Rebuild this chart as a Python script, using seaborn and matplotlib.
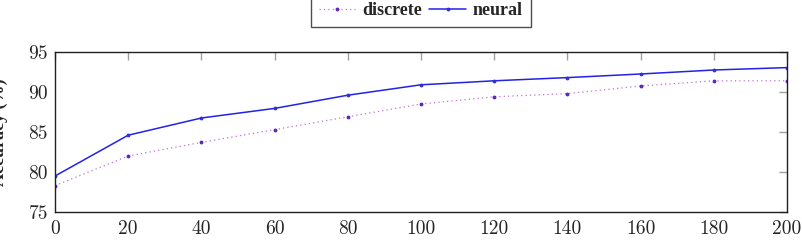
import matplotlib
matplotlib.use("Agg")
import matplotlib.pyplot as plt
import seaborn as sns
import pandas as pd

steps = [0, 20, 40, 60, 80, 100, 120, 140, 160, 180, 200]
discrete = [78.3, 82.0, 83.7, 85.3, 86.9, 88.5, 89.4, 89.8, 90.75, 91.4, 91.4]
neural = [79.5, 84.6, 86.75, 87.95, 89.6, 90.9, 91.4, 91.8, 92.25, 92.75, 93.05]
x_ticks = [0, 20, 40, 60, 80, 100, 120, 140, 160, 180, 200]
y_ticks = [75, 80, 85, 90, 95]

sns.set_theme(style="white")
plt.rcParams["axes.formatter.use_mathtext"] = True

fig = plt.figure(figsize=(8.03, 2.40), dpi=100)
W, H = 803, 240
ax = fig.add_axes([55 / W, 1 - 212 / H, (787 - 55) / W, (212 - 52) / H])

df_d = pd.DataFrame({"x": steps, "y": discrete})
df_n = pd.DataFrame({"x": steps, "y": neural})

sns.lineplot(data=df_d, x="x", y="y", ax=ax, color="#c070d8", linewidth=0.9,
             linestyle=(0, (1, 2.5)), marker="o", markersize=2.0,
             markerfacecolor="#5a22b8", markeredgecolor="#5a22b8",
             label="discrete")
sns.lineplot(data=df_n, x="x", y="y", ax=ax, color="#2222e8", linewidth=1.1,
             marker="o", markersize=2.0, markerfacecolor="#3030d0",
             markeredgecolor="#3030d0", label="neural")

ax.set_xlim(0, 200)
ax.set_ylim(75, 95)
ax.set_xticks(x_ticks)
ax.set_yticks(y_ticks)
ax.set_xlabel("")
ax.set_ylabel("")

tick_font = {"family": "cmr10", "size": 14}
ax.set_xticklabels([str(t) for t in x_ticks], fontdict=tick_font)
ax.set_yticklabels([str(t) for t in y_ticks], fontdict=tick_font)

ax.tick_params(axis="x", pad=5.5)
ax.tick_params(axis="y", pad=5)
ax.tick_params(axis="both", direction="in", length=6, width=1,
               color="#a0a0a0", top=True, right=True)
for s in ax.spines.values():
    s.set_color("#202020")
    s.set_linewidth(1.0)

fig.text(8 / W, 1 - 132 / H, "Accuracy (%)", rotation=90, ha="right",
         va="center", fontsize=13, fontweight="bold",
         family="Liberation Serif")

leg = ax.legend(loc="lower center", bbox_to_anchor=(0.5, 1.1), ncol=2,
                frameon=True, fancybox=False, handlelength=2.0,
                columnspacing=0.4, handletextpad=0.4, borderpad=0.45,
                prop={"family": "Liberation Serif", "weight": "bold",
                      "size": 13})
leg.get_frame().set_edgecolor("#202020")
leg.get_frame().set_linewidth(1.0)

fig.savefig("out.png", dpi=100)
